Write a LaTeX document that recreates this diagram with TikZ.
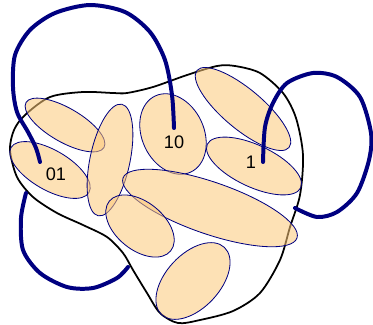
\documentclass[tikz,border=0pt]{standalone}
\usepackage{fontspec}
\setmainfont{Liberation Sans}
\usetikzlibrary{shapes.geometric}
\definecolor{cnavy}{HTML}{000080}
\definecolor{cpeach}{HTML}{FCC878}
\tikzset{
  blob/.style={draw=black, line width=1.5pt},
  hedge/.style={ellipse, draw=cnavy, line width=0.7pt, fill=cpeach, fill opacity=0.55, inner sep=0pt, outer sep=0pt},
  link/.style={draw=cnavy, line width=3.4pt, line cap=round},
  lbl/.style={font=\fontsize{15.5}{18}\selectfont, inner sep=0pt},
}

\begin{document}
\begin{tikzpicture}[x=0.03cm, y=-0.03cm]
  \useasboundingbox (0,0) rectangle (373,324);
  \draw[blob] plot[smooth cycle] coordinates {(10,150) (14,130) (25,115) (50,97) (83,92) (113,93) (127,93) (153,87) (187,75) (217,66) (235,66) (260,73) (283,93) (296,118) (303,155) (300,195) (290,227) (280,260) (260,293) (233,311) (200,320) (178,323) (160,313) (147,293) (133,270) (123,253) (107,237) (83,225) (57,213) (33,197) (17,177)};
  \node[hedge, minimum width=2.7cm, minimum height=1.02cm, rotate=-30] (h1) at (65,125) {};
  \node[hedge, minimum width=2.7cm, minimum height=1.2cm, rotate=-30] (h2) at (50,170) {};
  \node[hedge, minimum width=3.42cm, minimum height=1.2cm, rotate=78] (h3) at (110,160) {};
  \node[hedge, minimum width=2.52cm, minimum height=1.86cm, rotate=115] (h4) at (173,134) {};
  \node[hedge, minimum width=3.6cm, minimum height=1.2cm, rotate=-40] (h5) at (243,109) {};
  \node[hedge, minimum width=3.09cm, minimum height=1.26cm, rotate=-25] (h6) at (254,166) {};
  \node[hedge, minimum width=5.52cm, minimum height=1.56cm, rotate=-19] (h7) at (210,208) {};
  \node[hedge, minimum width=2.37cm, minimum height=1.44cm, rotate=-39] (h8) at (140,226) {};
  \node[hedge, minimum width=2.76cm, minimum height=1.62cm, rotate=47] (h9) at (193,281) {};
  \coordinate (a0) at (40,162); \coordinate (a1) at (174,128);
  \coordinate (b0) at (263,162); \coordinate (b1) at (295,208);
  \coordinate (c0) at (26,193); \coordinate (c1) at (128,267);
  \draw[link] plot[smooth] coordinates {(a0) (36,148) (28,132) (17,112) (13,87) (15,55) (30,30) (55,13) (90,5) (125,12) (150,32) (165,60) (172,95) (a1)};
  \draw[link] plot[smooth] coordinates {(b0) (265,127) (273,103) (287,83) (313,73) (337,77) (360,97) (371,133) (369,160) (357,193) (337,212) (317,217) (b1)};
  \draw[link] plot[smooth] coordinates {(c0) (21,218) (23,250) (40,273) (67,287) (93,288) (117,278) (c1)};
  \node[lbl] (t01) at (56,174) {01};
  \node[lbl] (t10) at (174,142) {10};
  \node[lbl] (t1) at (251,162) {1};
\end{tikzpicture}
\end{document}
